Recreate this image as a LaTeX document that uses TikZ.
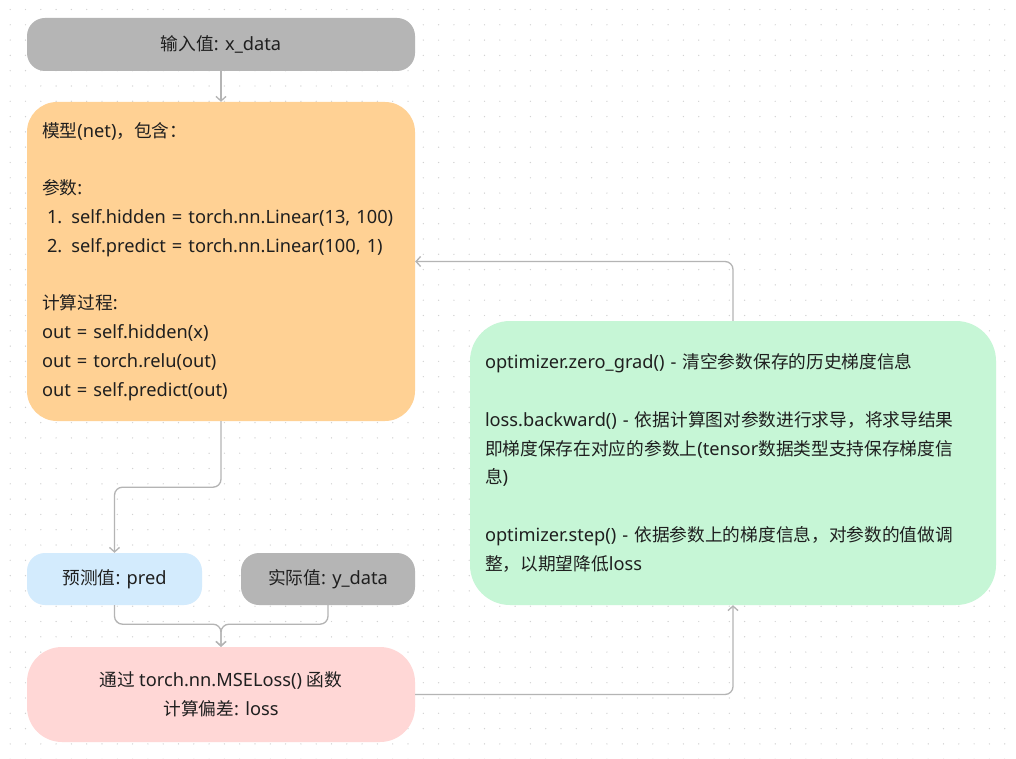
\documentclass[tikz,border=0pt]{standalone}
\usepackage{fontspec}
\setmainfont{Noto Sans}[Scale=1.03]
\newfontfamily\cjkfont{Noto Sans CJK SC}
% switch to the CJK font for Chinese characters
\XeTeXinterchartokenstate=1
\newXeTeXintercharclass\CJKclass
\count255="4E00
\loop\ifnum\count255<"A000
  \XeTeXcharclass\count255=\CJKclass
  \advance\count255 by 1
\repeat
\XeTeXcharclass"FF0C=\CJKclass
\XeTeXcharclass"FF1A=\CJKclass
\XeTeXinterchartoks 0 \CJKclass = {\cjkfont}
\XeTeXinterchartoks 4095 \CJKclass = {\cjkfont}
\XeTeXinterchartoks \CJKclass 0 = {\rmfamily}
\XeTeXinterchartoks 4095 0 = {\rmfamily}
\usetikzlibrary{arrows.meta}
\definecolor{boxgray}{HTML}{B5B5B5}
\definecolor{boxorange}{HTML}{FFD194}
\definecolor{boxgreen}{HTML}{C6F6D6}
\definecolor{boxblue}{HTML}{D3EBFD}
\definecolor{boxpink}{HTML}{FFD7D6}
\definecolor{linegray}{HTML}{B4B4B4}
\definecolor{dotgray}{HTML}{D2D2D2}
\definecolor{textdark}{HTML}{1F1F1F}
\tikzset{
  box/.style={rounded corners=18pt, inner sep=0pt, text=textdark,
    font=\fontsize{17.7}{28.8}\selectfont},
  conn/.style={draw=linegray, line width=1.3pt, rounded corners=8pt,
    -{Straight Barb[length=4.5pt,width=10pt]}}
}
\begin{document}
\begin{tikzpicture}[x=1pt,y=-1pt]
  \fill[white] (0,0) rectangle (1016,759);
  \useasboundingbox (0,0) rectangle (1016,759);
  \foreach \i in {0,...,66}
    \foreach \j in {0,...,49}
      \fill[dotgray] (10.2+\i*15.3, 9.5+\j*15.3) circle (0.7pt);

  \node[box, fill=boxgray, minimum width=388pt, minimum height=53pt] (input) at (221,44.5) {输入值: x\_data};
  \node[box, fill=boxorange, rounded corners=30pt, minimum width=388pt, minimum height=319pt,
    text width=358pt, align=left] (model) at (221,261.5)
    {模型(net)，包含：\\[28.8pt]
     参数:\\
     \hspace*{5pt}1. self.hidden = torch.nn.Linear(13, 100)\\
     \hspace*{5pt}2. self.predict = torch.nn.Linear(100, 1)\\[28.8pt]
     计算过程:\\
     out = self.hidden(x)\\
     out = torch.relu(out)\\
     out = self.predict(out)};
  \node[box, fill=boxgreen, rounded corners=40pt, minimum width=526pt, minimum height=284pt,
    text width=496pt, align=left] (optim) at (733,463)
    {optimizer.zero\_grad() - 清空参数保存的历史梯度信息\\[28.8pt]
     loss.backward() - 依据计算图对参数进行求导，将求导结果\\
     即梯度保存在对应的参数上(tensor数据类型支持保存梯度信\\
     息)\\[28.8pt]
     optimizer.step() - 依据参数上的梯度信息，对参数的值做调\\
     整，以期望降低loss};
  \node[box, fill=boxblue, minimum width=175pt, minimum height=52pt] (pred) at (114.5,579) {预测值: pred};
  \node[box, fill=boxgray, minimum width=174pt, minimum height=52pt] (ydata) at (328,579) {实际值: y\_data};
  \node[box, fill=boxpink, rounded corners=35pt, minimum width=388pt, minimum height=95pt,
    align=center] (loss) at (221,694.5) {通过 torch.nn.MSELoss() 函数\\计算偏差: loss};

  \draw[conn] (input) -- (model);
  \draw[conn] (model.south) -- ++(0,66) -| (pred.north);
  \draw[conn] (pred.south) -- ++(0,19) -| (loss.north);
  \draw[conn] (ydata.south) -- ++(0,19) -| (loss.north);
  \draw[conn] (loss.east) -| (optim.south);
  \draw[conn] (optim.north) |- (model.east);
\end{tikzpicture}
\end{document}
